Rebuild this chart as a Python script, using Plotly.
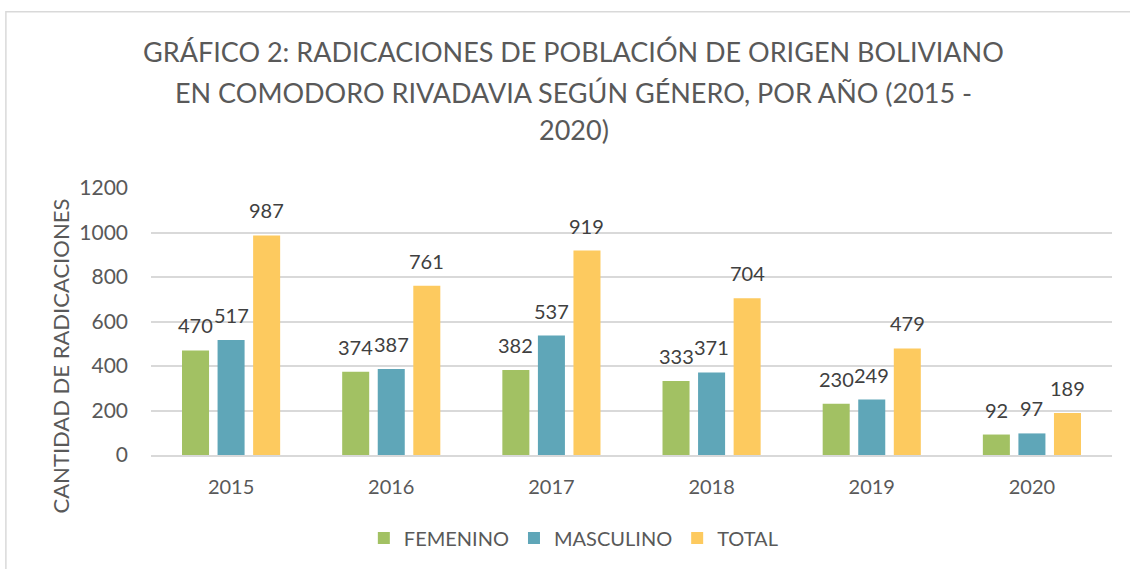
import plotly.graph_objects as go

years = ["2015", "2016", "2017", "2018", "2019", "2020"]
femenino = [470, 374, 382, 333, 230, 92]
masculino = [517, 387, 537, 371, 249, 97]
total = [987, 761, 919, 704, 479, 189]

title_lines = [
    "GRÁFICO 2: RADICACIONES DE POBLACIÓN DE ORIGEN BOLIVIANO",
    "EN COMODORO RIVADAVIA SEGÚN GÉNERO, POR AÑO (2015 -",
    "2020)",
]
y_title = "CANTIDAD DE RADICACIONES"

series = [
    ("FEMENINO", femenino, "#A2C163"),
    ("MASCULINO", masculino, "#5FA6B8"),
    ("TOTAL", total, "#FDCA5F"),
]

FONT = "Lato"
W, H = 1130, 569
ML, MR, MT, MB = 151, 18, 188, 114
BARGAP = 0.334
plot_w = W - ML - MR
plot_h = H - MT - MB
cat_w = plot_w / len(years)
slot = cat_w * (1 - BARGAP) / len(series)

fig = go.Figure()
annotations = []
for i, (name, vals, col) in enumerate(series):
    fig.add_trace(go.Bar(
        x=years, y=vals, name=name, marker_color=col, marker_line_width=0,
    ))
    for j, v in enumerate(vals):
        annotations.append(dict(
            x=j, y=v, xref="x", yref="y", text=str(v), showarrow=False,
            xshift=(i - (len(series) - 1) / 2) * slot, yshift=25,
            yanchor="middle", xanchor="center",
            font=dict(family=FONT, size=20, color="#404040"),
        ))

# title lines (px centres -> paper coords)
title_px_x = 573.5
title_px_y = [51, 92, 130]
for line, py in zip(title_lines, title_px_y):
    annotations.append(dict(
        x=(title_px_x - ML) / plot_w, y=(MT + plot_h - py) / plot_h,
        xref="paper", yref="paper", text=line, showarrow=False,
        xanchor="center", yanchor="middle",
        font=dict(family=FONT, size=27, color="#595959"),
    ))
annotations.append(dict(
    x=(60 - ML) / plot_w, y=(MT + plot_h - 356.5) / plot_h,
    xref="paper", yref="paper", text=y_title, showarrow=False,
    textangle=-90, xanchor="center", yanchor="middle",
    font=dict(family=FONT, size=22, color="#595959"),
))

fig.update_layout(
    width=W, height=H,
    paper_bgcolor="white", plot_bgcolor="white",
    margin=dict(l=ML, r=MR, t=MT, b=MB, autoexpand=False),
    barmode="group", bargap=BARGAP, bargroupgap=0.24,
    legend=dict(
        orientation="h", x=0.44, xanchor="center", y=-(538 - (MT + plot_h)) / plot_h,
        yanchor="middle",
        font=dict(family=FONT, size=20, color="#595959"),
        itemwidth=30, traceorder="normal",
    ),
    annotations=annotations,
    shapes=[dict(type="rect", xref="paper", yref="paper",
                 x0=-0.151, x1=1.03, y0=-0.45, y1=1.66,
                 line=dict(color="#D9D9D9", width=1.5))],
)
fig.update_xaxes(
    type="category", range=[-0.5, len(years) - 0.5],
    tickfont=dict(family=FONT, size=20, color="#595959"),
    showline=True, linecolor="#D9D9D9", linewidth=1.5, ticks="", ticklabelstandoff=13,
)
fig.update_yaxes(
    range=[0, 1200], dtick=200,
    gridcolor="#D9D9D9", gridwidth=1.5, zeroline=False,
    tickfont=dict(family=FONT, size=21, color="#595959"),
    ticklabelstandoff=22,
)
fig.write_html("out.html", config={"displayModeBar": False},
               post_script="document.body.style.margin='0px';")
